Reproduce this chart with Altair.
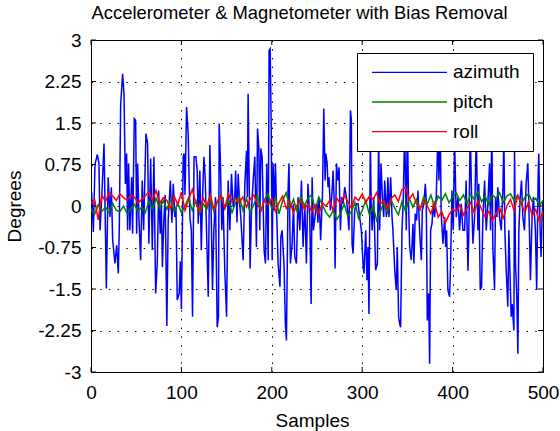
import altair as alt
import pandas as pd

FONT = "Liberation Sans"

# Azimuth trace (degrees), listed as vertices: sample index and value
az_sample = [
    0.7, 2.6, 4.4, 7, 8.8, 10, 12, 14.4, 17, 19, 21, 22.5, 24, 26.5, 28.4, 30.2, 31.3, 32.8, 35, 36.5,
    38, 39.4, 40.5, 41.6, 43, 45, 46, 47.9, 49.4, 50.5, 51.6, 53, 54.9, 56.7, 58.2, 60.8, 62.6, 64, 66, 67.8,
    69.6, 71.5, 73.3, 74.8, 76.6, 77.8, 79, 80.5, 82,
    83.9, 85.4, 87.8, 89.5, 91, 92.8, 94, 95.4, 97.6, 98.8, 100, 102, 103, 104, 105.7, 107.5, 109.4, 111, 112.3, 114,
    116, 117.5, 118.6, 120.4, 122, 123.4, 124.9, 126.3, 127.8, 129.7, 131.5, 133.3, 134.4, 135.9, 137.7, 139.6, 141, 141.8, 143, 144.7,
    146, 148, 150, 151.7, 153.6, 155.4, 157.3, 159, 160, 161.5, 162.8,
    164.2, 165.7, 166.5, 168.3, 170.2, 172, 173, 173.8, 175.3, 176, 177.5, 179.4, 181.2, 183, 184.2, 185.6, 186.7, 187.8, 189.3, 191.5,
    193, 194.4, 196, 197, 198.2, 199.3, 200.4, 201.5, 202.6, 204, 205.5, 207, 209, 210, 211.4, 213.6, 215, 216.2, 218, 219,
    220.6, 222.5, 224, 225.4, 227.3, 229, 231, 232.8, 234.6, 236.5, 238.3, 240, 242, 243.5, 244.6, 246,
    248.6, 250, 251, 252.3, 254, 256, 257.5, 259, 259.7, 261.2, 262.2, 263.3, 264.8, 266.3, 267.8, 268.9, 270, 271.5, 273, 274.4,
    275.9, 277.3, 278.8, 280.7, 282.5, 284.3, 285.4, 287, 288, 288.8, 289.9, 291.7, 293.6, 295.4, 297.2, 299.1, 300.9, 302, 303.9, 305.3,
    306.4, 307.5, 309, 310, 311, 312.7, 314.9, 316.8, 318.2, 319.3, 320.8, 322.3, 323.8, 324.9, 326.7, 328.5, 329.6,
    331.5, 333, 334, 336, 337.7, 338.8, 340.3, 341.4, 342.5, 344, 345.5, 347, 348.8, 349.9, 351.3, 352.5, 354.3, 356.2, 357.2, 358.7,
    360.2, 361.7, 363.5, 365.4, 366.5, 368.3, 369.8, 370.9, 372, 373.5, 374.6, 375.7, 377.2, 378.6, 380.1, 381.9, 383.8, 384.9, 386.3, 387.4,
    389.3, 391.2, 392.3, 393.4, 394.8, 396.7, 397.8, 399.3, 400.7, 402.2, 404, 405.9, 407.7, 409.6, 411.4,
    413.3, 415, 417, 418, 419.5, 421, 422.5, 424.3, 426.2, 428, 429, 430.6, 432, 433.5, 435.4, 437.2, 439, 440.9, 442, 443.4,
    444.5, 446.4, 447.5, 449, 450, 451.9, 453.8, 455.6, 456.7, 457.8, 459.3, 461.1, 462.2, 463.7, 464.8, 465.9, 467.8, 468.5, 469.6, 471,
    472.2, 473.3, 474.8, 476.2, 477.7, 479.5, 481.3, 483.2, 485, 486.1, 487.9, 489.4, 491.6, 493, 494.6, 495.3, 496.8, 497.9, 499, 500,
]
az_value = [
    0.25, -0.47, 0.75, 0.93, 0.77, -0.44, 0.2, 1.13, -1.49, 0.52, -0.2, 0.34, -0.62, -1.04, -0.71, -1.22, -0.38, 1.82, 2.39, 2.03,
    0.4, 0.95, -0.44, 0.77, -0.44, 0.52, -0.5, 1.58, 1.55, -0.5, 0.77, -0.2, -0.98, 0.46, -0.44, 1.31, 1.13, -0.68, 0.86, -0.8,
    0.89, -1.58, -1.04, 0.28, -0.5, 0.1, -1.1, -0.3, 0.2,
    -2.17, -0.26, 0.46, -0.3, 0.4, -0.2, -0.02, -1.7, -1.58, -1.0, -1.86, 0.89, 0.95, 0.2, 1.79, 1.3, -0.2, -0.44, -2.0, 0.89,
    0.89, 0.64, -0.32, 0.64, -0.8, 0.16, 0.89, 0.52, -0.44, -1.64, 1.1, -0.44, -1.52, -0.44, 0.16, -2.19, -2.0, 1.49, 0.89, -0.44,
    0.16, -1.16, -2.0, 0.46, -0.44, 0.58, -0.02, 0.16, 0.64, -0.3, 0.58,
    0.1, -0.2, -0.44, -0.98, 0.4, 1.0, 0.16, 2.03, 0.04, -1.13, -0.08, 0.46, 0.89, -0.74, 1.4, 1.07, -0.44, 1.04, 0.89, -0.8,
    -1.04, 0.77, -0.98, 2.81, 2.84, 1.49, -0.98, 0.77, -0.08, 0.77, -0.2, -1.04, -1.46, -0.56, -0.44, -1.1, -2.13, -2.43, 0.28, 0.77,
    -1.04, -0.68, 0.04, -0.92, -1.04, 0.16, -0.44, 0.46, -0.74, 0.04, -1.04, 0.4, -0.2, -1.77, 0.52, -0.44,
    -0.08, 0.04, -0.3, 0.16, -0.62, 0.16, 1.76, 0.46, 0.95, 0.77, 0.34, 0.52, -0.08, 0.16, 0.64, 0.16, -1.13, 0.77, 0.46, 0.7,
    -0.44, 0.16, 0.04, 0.34, 0.16, -0.2, -0.44, 1.73, 1.55, -0.68, -0.86, -0.08, 0.04, 0.04, -0.2, -0.44, -1.04, -1.22, -0.44, -1.34,
    -0.74, -1.95, 1.2, -0.02, -0.44, 0.16, -1.16, -1.04, 1.3, -0.44, 0.77, 0.16, -0.2, 0.46, -0.2, 0.52, -0.2,
    0.52, -0.2, -0.44, -1.16, -1.52, -0.74, -2.0, -2.13, -2.19, -0.44, 0.16, 1.4, -0.44, 1.6, 0.04, -0.74, -0.98, -0.32, -1.04, -0.14,
    -0.26, 0.28, -0.44, -0.98, -0.08, 0.04, 0.4, 0.1, -2.07, -1.58, -2.85, -0.44, -0.32, 0.04, -0.2, 0.16, 1.3, 0.46, 1.5, -0.14,
    -0.68, -0.2, -0.74, -0.44, -1.52, -1.64, -1.04, 0.28, -0.44, 1.2, -0.2, 0.16, -0.44, 0.04, -0.44,
    -0.44, 0.46, -1.17, -0.44, 1.4, 0.16, -0.68, -0.2, 1.3, -0.44, 0.4, -1.52, -1.46, -0.2, 0.46, -0.44, 0.04, 0.77, -0.44, 1.5,
    -0.74, -1.52, 0.16, -0.2, 0.34, -0.2, -0.44, 0.28, 1.2, -0.44, -1.16, -1.82, -0.44, -1.34, -2.0, -1.77, -2.25, 1.1, -1.04, -1.64,
    -2.67, -0.44, 0.16, 0.46, -0.2, -0.44, 0.4, 0.77, -0.44, -1.34, -0.2, 0.16, -0.44, -1.52, 0.52, 0.95, -0.44, -0.92, -0.2, 0.1,
]

# Pitch and roll (degrees), one value every 4 samples from 0 to 500
pr_sample = list(range(0, 501, 4))
pitch = [
    -0.05, -0.15, 0.02, -0.1, -0.02, -0.12, 0.05, -0.08, -0.1, 0.0, -0.14, -0.05, 0.03, -0.1, -0.02, -0.12, 0.08, -0.06, 0.14, -0.04, 0.1,
    -0.06, 0.12, -0.1, 0.05, -0.12, 0.0, 0.15, -0.08, 0.1, -0.14, 0.04, -0.06, 0.12, -0.1, 0.08, 0.2, -0.05, 0.1, -0.12, 0.06,
    0.18, -0.08, 0.14, -0.12, 0.02, 0.2, -0.1, 0.12, 0.22, -0.06, 0.16, -0.14, 0.1, 0.24, -0.04, 0.12, -0.1, 0.18, 0.0, 0.14,
    0.2, -0.06, 0.16, 0.02, -0.12, -0.2, -0.08, -0.24, -0.14, 0.04, -0.18, -0.1, 0.06, -0.22, -0.08, 0.1, -0.16, 0.0, -0.26, -0.1,
    0.06, -0.12, 0.1, -0.04, -0.16, 0.08, -0.1, 0.14, -0.02, 0.12, -0.06, 0.16, 0.04, 0.2, -0.02, 0.18, 0.1, 0.22, 0.06, 0.16,
    0.24, 0.1, 0.2, 0.04, 0.22, 0.12, 0.26, 0.08, 0.18, 0.02, 0.2, 0.14, 0.24, 0.06, 0.18, 0.22, 0.1, 0.2, 0.04, 0.16, 0.22, 0.08, 0.14, 0.0, 0.1,
]
roll = [
    0.05, 0.12, -0.25, 0.2, 0.08, 0.24, 0.18, 0.1, 0.22, 0.15, 0.1, 0.2, 0.16, 0.05, 0.12, 0.18, 0.26, 0.1, 0.28, 0.05, 0.15,
    0.1, -0.05, 0.18, 0.02, 0.25, -0.08, 0.12, 0.3, 0.05, -0.1, 0.15, 0.0, 0.2, -0.06, 0.1, 0.18, -0.04, 0.22, 0.08, 0.14,
    0.06, 0.16, -0.02, 0.12, 0.2, 0.04, -0.08, 0.1, 0.02, 0.14, -0.1, 0.06, 0.18, -0.04, 0.08, -0.12, 0.02, 0.1, -0.06, 0.04,
    -0.1, 0.02, -0.14, 0.06, 0.0, 0.1, -0.08, 0.14, 0.04, 0.2, 0.08, -0.04, 0.16, 0.1, 0.22, 0.06, 0.18, 0.12, 0.24, 0.04,
    0.1, -0.06, 0.14, 0.2, 0.08, 0.3, 0.34, 0.12, 0.22, 0.04, -0.06, 0.1, 0.0, -0.14, 0.06, -0.2, -0.1, -0.3, -0.16, -0.06,
    -0.1, 0.02, -0.16, -0.04, 0.06, -0.12, 0.1, -0.06, -0.2, -0.1, -0.26, -0.14, -0.04, -0.22, 0.0, 0.12, -0.08, 0.18, 0.04, -0.12, 0.08, -0.18, -0.06, -0.28, -0.1,
]

series_names = ["azimuth", "pitch", "roll"]
series_colors = ["#0000ff", "#008000", "#ff0000"]
x_ticks = [0, 100, 200, 300, 400, 500]
y_ticks = [-3, -2.25, -1.5, -0.75, 0, 0.75, 1.5, 2.25, 3]

W, H = 452, 332

frames = [pd.DataFrame({"series": "azimuth", "sample": az_sample, "value": az_value})]
frames.append(pd.DataFrame({"series": "pitch", "sample": pr_sample, "value": pitch}))
frames.append(pd.DataFrame({"series": "roll", "sample": pr_sample, "value": roll}))
data = pd.concat(frames, ignore_index=True)

color = alt.Color("series:N", scale=alt.Scale(domain=series_names, range=series_colors), legend=None)

text_style = dict(
    labelFont=FONT, labelFontSize=19, labelColor="black",
    titleFont=FONT, titleFontSize=19, titleFontWeight="normal", titleColor="black",
)
grid_style = dict(grid=True, gridColor="#000", gridDash=[1.5, 7.2], gridWidth=1, gridOpacity=1)

x_axis = alt.Axis(
    values=x_ticks, title="Samples", ticks=False, tickSize=0, domain=False,
    labelPadding=11, labelFlush=False, labelBaseline="top",
    titleX=221, titleY=54, titleBaseline="alphabetic", titleAlign="center",
    **grid_style, **text_style,
)
y_axis = alt.Axis(
    values=y_ticks, title="Degrees", ticks=False, tickSize=0, domain=False,
    labelPadding=10, labelFlush=False, labelExpr="datum.value + ''",
    titleX=-71, titleY=166, titleAngle=270, titleBaseline="alphabetic", titleAlign="center",
    **grid_style, **text_style,
)

x_enc = alt.X("sample:Q", scale=alt.Scale(domain=[0, 500], nice=False, zero=False), axis=x_axis)
y_enc = alt.Y("value:Q", scale=alt.Scale(domain=[-3, 3], nice=False), axis=y_axis)

base = alt.Chart(data)
lines = [
    base.transform_filter(alt.datum.series == name)
    .mark_line(strokeWidth=1.5, clip=True)
    .encode(x=x_enc, y=y_enc, color=color)
    for name in series_names
]

# Inward tick marks on all four sides of the box
xt = pd.DataFrame({"sample": x_ticks})
yt = pd.DataFrame({"value": y_ticks})
ticks = [
    alt.Chart(xt).mark_rule(color="black").encode(x=x_enc, y=alt.value(H - 5), y2=alt.value(H)),
    alt.Chart(xt).mark_rule(color="black").encode(x=x_enc, y=alt.value(0), y2=alt.value(5)),
    alt.Chart(yt).mark_rule(color="black").encode(y=y_enc, x=alt.value(0), x2=alt.value(5)),
    alt.Chart(yt).mark_rule(color="black").encode(y=y_enc, x=alt.value(W - 5), x2=alt.value(W)),
]

# Boxed legend in the upper right corner
legend_df = pd.DataFrame({"series": series_names, "i": list(range(len(series_names)))})
legend_box = alt.Chart(pd.DataFrame({"k": [0]})).mark_rect(
    fill="white", stroke="black", strokeWidth=1
).encode(x=alt.value(266.5), x2=alt.value(442.5), y=alt.value(13.5), y2=alt.value(111.5))
legend_base = alt.Chart(legend_df).transform_calculate(ly="32.3 + 29.7 * datum.i")
legend_lines = legend_base.mark_rule(strokeWidth=1.3).encode(
    x=alt.value(281), x2=alt.value(356), y=alt.Y("ly:Q", scale=None), color=color
)
legend_text = legend_base.mark_text(
    align="left", baseline="middle", font=FONT, fontSize=19, color="black"
).encode(x=alt.value(362), y=alt.Y("ly:Q", scale=None), text="series:N")

chart = (
    alt.layer(*lines, *ticks, legend_box, legend_lines, legend_text)
    .properties(
        width=W,
        height=H,
        background="white",
        autosize=alt.AutoSizeParams(type="none"),
        padding={"left": 91, "top": 40, "right": 17, "bottom": 59},
        title=alt.TitleParams(
            "Accelerometer & Magnetometer with Bias Removal",
            font=FONT, fontSize=18.4, fontWeight="normal", color="black",
            anchor="middle", dx=-17.5, dy=22, offset=16, baseline="alphabetic",
        ),
    )
    .configure_view(stroke="black", strokeWidth=1)
)

chart.save("out.html", embed_options={"renderer": "svg", "actions": False})
